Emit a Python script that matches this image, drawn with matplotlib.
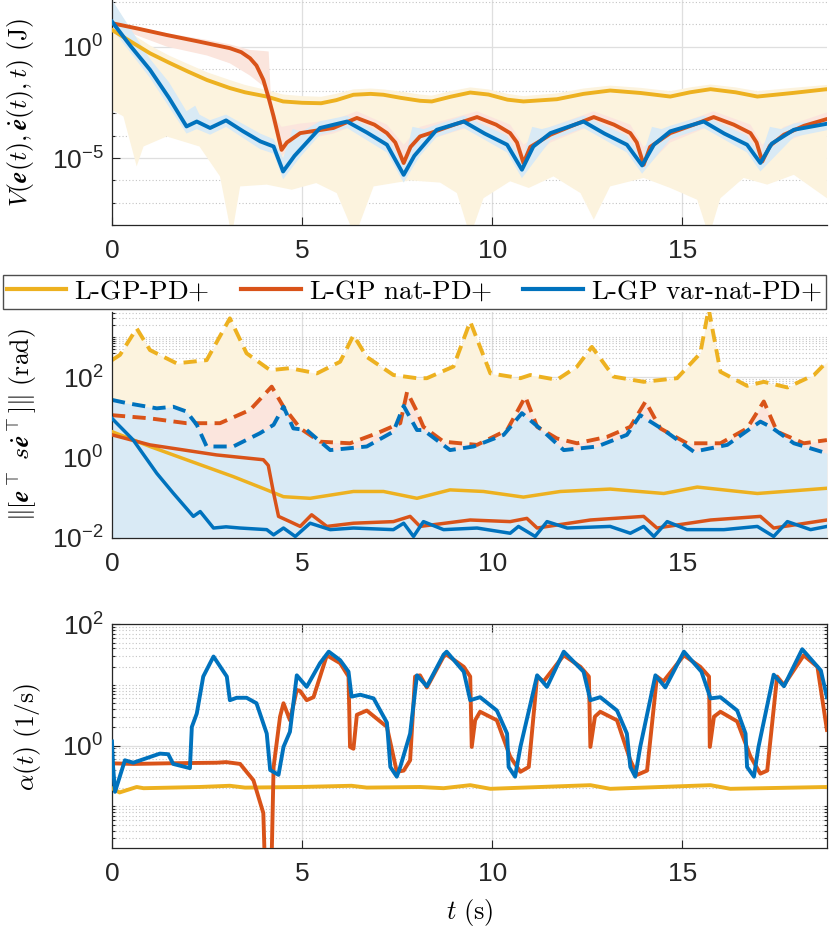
import numpy as np
import matplotlib
matplotlib.use("Agg")
import matplotlib.pyplot as plt
from matplotlib import ticker

# values are log10 of the plotted quantity

# top panel: V(e, de, t)
t_v_gp = [0, 0.5, 1.0, 1.5, 2.0, 2.5, 3.1, 3.5, 4.07, 4.5, 5.0, 5.5, 5.9, 6.35, 6.8, 7.14, 7.6, 8.1,
          8.41, 8.9, 9.42, 9.9, 10.4, 10.82, 11.7, 12.4, 13.1, 13.9, 14.68, 15.2, 15.74, 16.4, 16.97,
          17.9, 18.8]
v_gp = [0.75, 0.22, -0.30, -0.72, -1.12, -1.50, -1.86, -2.05, -2.24, -2.46, -2.52, -2.54, -2.40, -2.16,
        -2.12, -2.16, -2.30, -2.43, -2.46, -2.25, -2.06, -2.15, -2.38, -2.46, -2.36, -2.12, -1.97, -2.08,
        -2.24, -2.05, -1.91, -2.05, -2.24, -2.08, -1.91]
v_gp_up = [1.3, 0.6, 0.05, -0.4, -0.78, -1.15, -1.5, -1.72, -1.95, -2.15, -2.22, -2.25, -2.12, -1.92,
           -1.88, -1.92, -2.02, -2.15, -2.2, -2.0, -1.83, -1.92, -2.12, -2.22, -2.1, -1.88, -1.75, -1.85,
           -2.0, -1.83, -1.7, -1.83, -2.0, -1.85, -1.72]
t_v_gp_lo = [0, 0.3, 0.65, 0.83, 1.44, 2.3, 2.84, 3.15, 3.37, 4.07, 4.73, 5.37, 5.91, 6.39, 6.88, 7.84,
             8.63, 9.07, 9.42, 9.77, 10.47, 10.96, 11.61, 12.32, 12.67, 13.1, 13.98, 14.68, 15.39, 15.7,
             16.0, 16.61, 17.23, 17.93, 18.8]
v_gp_lo = [-2.84, -3.13, -5.37, -4.48, -4.03, -4.48, -5.82, -8.5, -6.27, -6.19, -6.42, -6.12, -6.57, -8.5,
           -6.27, -6.0, -6.1, -6.57, -8.5, -6.8, -6.04, -6.34, -5.82, -6.57, -7.76, -6.27, -5.89, -6.34,
           -6.87, -8.5, -6.8, -5.89, -6.19, -5.75, -6.8]

t_v_nat = [0, 0.7, 1.44, 2.3, 3.1, 3.4, 3.63, 3.8, 3.98, 4.12, 4.25, 4.46, 4.6, 4.95, 5.82, 6.44, 6.9,
           7.23, 7.45, 7.67, 7.85, 8.1, 8.37, 9.0, 9.6, 10.1, 10.47, 10.65, 10.82, 11.0, 11.53, 12.1, 12.67,
           13.2, 13.63, 13.8, 13.98, 14.15, 14.68, 15.3, 15.82, 16.35, 16.79, 16.95, 17.1, 17.3, 17.67,
           18.2, 18.8]
v_nat = [1.05, 0.8, 0.52, 0.22, -0.07, -0.25, -0.52, -0.85, -1.49, -2.3, -3.13, -4.63, -4.3, -3.88, -3.65,
         -3.2, -3.5, -3.88, -4.3, -5.22, -4.5, -4.03, -3.88, -3.5, -3.16, -3.5, -3.88, -4.3, -5.22, -4.5,
         -3.95, -3.55, -3.16, -3.5, -3.88, -4.3, -5.3, -4.5, -3.88, -3.5, -3.16, -3.5, -3.88, -4.3, -5.15,
         -4.45, -3.95, -3.55, -3.25]
t_v_nat_band = [0, 0.5, 1.44, 2.5, 3.1, 3.63, 4.0, 4.12, 4.2, 4.46, 4.95, 5.82, 6.44, 7.23, 7.67, 8.1,
                9.6, 10.47, 10.82, 11.53, 12.67, 13.63, 13.98, 14.68, 15.82, 16.79, 17.1, 17.67, 18.8]
v_nat_up = [1.15, 0.95, 0.6, 0.3, 0.1, -0.15, -0.2, -0.22, -3.0, -3.6, -3.45, -3.3, -2.9, -3.5, -4.4,
            -3.6, -2.9, -3.5, -4.4, -3.6, -2.9, -3.5, -4.5, -3.6, -2.9, -3.5, -4.4, -3.6, -2.95]
v_nat_lo = [0.95, 0.6, 0.0, -0.4, -0.75, -1.3, -1.8, -2.4, -3.3, -4.9, -4.2, -3.9, -3.5, -4.2, -5.4,
            -4.3, -3.5, -4.2, -5.4, -4.3, -3.5, -4.2, -5.5, -4.3, -3.5, -4.2, -5.4, -4.3, -3.5]

t_v_var = [0, 0.5, 1.0, 1.5, 1.96, 2.23, 2.58, 3.0, 3.45, 3.9, 4.25, 4.5, 4.8, 5.47, 6.18, 6.7, 7.23,
           7.67, 7.95, 8.54, 9.25, 9.8, 10.39, 10.78, 11.08, 11.53, 12.4, 12.95, 13.54, 13.94, 14.25,
           14.68, 15.56, 16.1, 16.7, 17.05, 17.35, 17.93, 18.8]
v_var = [1.12, 0.0, -1.04, -2.3, -3.58, -3.36, -3.65, -3.31, -3.8, -4.25, -4.48, -5.6, -4.9, -3.65, -3.36,
         -3.85, -4.4, -5.75, -4.9, -3.73, -3.36, -3.9, -4.4, -5.52, -4.48, -3.88, -3.36, -3.9, -4.4, -5.33,
         -4.4, -3.8, -3.36, -3.9, -4.4, -5.22, -4.35, -3.73, -3.46]
t_v_var_up = [0, 0.3, 1.0, 1.5, 1.96, 2.19, 2.3, 2.58, 3.0, 3.9, 4.25, 4.5, 4.75, 5.0, 5.47, 6.18, 7.23,
              7.67, 7.9, 8.2, 8.54, 9.25, 10.39, 10.78, 11.05, 11.3, 11.53, 12.4, 13.54, 13.94, 14.2,
              14.45, 14.68, 15.56, 16.7, 17.05, 17.3, 17.6, 17.93, 18.8]
v_var_up = [2.1, 1.3, -0.55, -1.6, -2.9, -2.65, -3.05, -3.3, -3.05, -3.9, -4.15, -5.0, -3.7, -3.8, -3.35,
            -3.1, -4.0, -5.3, -3.6, -3.7, -3.5, -3.1, -4.0, -5.1, -3.6, -3.7, -3.6, -3.1, -4.0, -5.0, -3.6,
            -3.7, -3.55, -3.1, -4.0, -4.9, -3.6, -3.7, -3.45, -3.25]
t_v_var_lo = [0, 1.0, 1.96, 2.23, 2.58, 3.0, 3.9, 4.25, 4.5, 4.95, 5.47, 6.18, 7.23, 7.67, 8.1, 8.54,
              9.25, 10.39, 10.78, 11.53, 12.4, 13.54, 13.94, 14.68, 15.56, 16.7, 17.05, 17.93, 18.8]
v_var_lo = [0.8, -1.4, -3.9, -3.7, -3.95, -3.6, -4.6, -4.8, -5.95, -4.95, -3.95, -3.65, -4.75, -6.1, -4.9,
            -4.05, -3.65, -4.75, -5.9, -4.2, -3.65, -4.75, -5.7, -4.15, -3.65, -4.75, -5.6, -4.05, -3.75]

# middle panel: error norm, solid = mean, dashed = upper bound
t_e_gp = [0, 1.0, 1.96, 3.19, 4.07, 4.51, 5.21, 6.35, 7.14, 8.02, 8.89, 9.77, 10.82, 11.79, 13.1, 14.51,
          15.39, 16.97, 18.8]
e_gp = [0.64, 0.27, -0.06, -0.48, -0.81, -0.98, -1.02, -0.85, -0.85, -1.02, -0.81, -0.85, -0.99, -0.85,
        -0.79, -0.90, -0.74, -0.90, -0.77]
t_e_gp_up = [0, 0.21, 0.65, 1.0, 1.7, 2.49, 3.1, 3.54, 4.16, 4.68, 5.39, 6.0, 6.35, 6.7, 7.4, 8.02, 8.28,
             8.98, 9.42, 9.95, 10.74, 11.0, 11.7, 12.23, 12.62, 13.19, 13.98, 14.86, 15.47, 15.69, 16.0,
             16.7, 17.14, 17.76, 18.46, 18.8]
e_gp_up = [2.42, 2.55, 3.21, 2.67, 2.34, 2.42, 3.46, 2.59, 2.17, 2.22, 2.09, 2.38, 3.04, 2.5, 2.05, 1.97,
           1.97, 2.26, 3.38, 2.09, 1.97, 2.05, 1.93, 2.26, 2.75, 2.01, 1.88, 1.97, 2.59, 3.7, 2.13, 1.78,
           1.88, 1.74, 2.05, 2.38]

t_e_nat = [0, 1.0, 2.75, 3.98, 4.11, 4.25, 4.38, 4.68, 4.95, 5.25, 5.65, 6.35, 7.4, 7.84, 8.1, 9.42,
           10.47, 10.91, 11.18, 12.58, 13.98, 14.33, 15.74, 17.05, 17.4, 18.8]
e_nat = [0.56, 0.31, 0.06, -0.06, -0.2, -0.89, -1.47, -1.6, -1.72, -1.43, -1.72, -1.64, -1.6, -1.47, -1.72,
         -1.56, -1.6, -1.52, -1.76, -1.56, -1.47, -1.76, -1.56, -1.47, -1.76, -1.56]
t_e_nat_up = [0, 1.0, 1.96, 2.84, 3.63, 4.2, 4.51, 4.95, 5.47, 6.26, 6.97, 7.58, 7.76, 8.02, 8.19, 8.72,
              9.6, 10.39, 10.87, 11.18, 11.7, 12.23, 13.02, 13.63, 14.03, 14.42, 15.12, 16.0, 16.7, 17.14,
              17.49, 18.19, 18.8]
e_nat_up = [1.05, 0.97, 0.85, 0.85, 1.18, 1.76, 1.26, 0.72, 0.39, 0.35, 0.6, 0.85, 1.63, 1.14, 0.76, 0.39,
            0.31, 0.68, 1.51, 0.76, 0.47, 0.35, 0.51, 0.76, 1.39, 0.72, 0.35, 0.35, 0.72, 1.39, 0.64, 0.35,
            0.43]

t_e_var = [0, 0.56, 1.18, 1.61, 2.14, 2.32, 2.67, 3.0, 3.37, 4.07, 4.25, 4.51, 4.82, 5.21, 5.74, 6.35,
           7.4, 7.67, 7.93, 8.19, 8.72, 9.6, 10.47, 10.69, 11.13, 11.44, 11.97, 13.1, 13.63, 13.98, 14.25,
           14.6, 15.12, 16.09, 16.97, 17.4, 17.76, 18.37, 18.8]
e_var = [0.97, 0.43, -0.4, -0.89, -1.47, -1.35, -1.76, -1.73, -1.76, -1.8, -1.93, -1.76, -1.97, -1.64, -1.8,
         -1.76, -1.8, -1.64, -1.97, -1.6, -1.8, -1.76, -1.89, -1.72, -1.97, -1.6, -1.76, -1.72, -1.89, -1.72,
         -1.97, -1.6, -1.8, -1.8, -1.72, -1.97, -1.6, -1.8, -1.72]
t_e_var_up = [0, 0.39, 1.18, 1.61, 1.96, 2.23, 2.49, 3.19, 3.89, 4.25, 4.51, 4.77, 5.12, 5.74, 6.7, 7.4,
              7.67, 8.02, 8.19, 8.89, 9.51, 10.3, 10.78, 11.35, 11.88, 12.76, 13.54, 13.89, 14.51, 15.3,
              16.18, 16.79, 17.05, 17.32, 17.93, 18.8]
e_var_up = [1.43, 1.35, 1.22, 1.26, 1.14, 0.81, 0.27, 0.27, 0.6, 0.81, 1.26, 0.72, 0.68, 0.18, 0.27, 0.64,
            1.28, 0.68, 0.68, 0.18, 0.27, 0.56, 1.1, 0.64, 0.18, 0.27, 0.56, 1.05, 0.68, 0.14, 0.31, 0.72,
            0.89, 0.76, 0.35, 0.1]

# bottom panel: alpha(t)
t_a_gp = [0, 0.2, 0.65, 0.83, 2.3, 3.1, 3.5, 4.95, 6.3, 6.7, 8.1, 8.72, 9.42, 9.95, 12.58, 13.1, 15.74,
          16.26, 18.8]
a_gp = [-0.70, -0.77, -0.68, -0.70, -0.68, -0.66, -0.69, -0.68, -0.66, -0.69, -0.68, -0.70, -0.65, -0.71,
        -0.65, -0.71, -0.65, -0.71, -0.68]

t_a_nat = [0, 0.56, 1.44, 2.75, 3.0, 3.37, 3.72, 3.98, 4.07, 4.16, 4.25, 4.42, 4.51, 4.68, 4.86, 4.95,
           5.12, 5.3, 5.65, 6.0, 6.22, 6.26, 6.35, 6.44, 6.7, 7.23, 7.49, 7.67, 7.84, 7.97, 8.1, 8.28, 8.72,
           8.8, 9.25, 9.42, 9.46, 9.55, 9.68, 10.12, 10.47, 10.74, 10.96, 11.18, 11.35, 11.88, 12.32, 12.54,
           12.58, 12.7, 12.84, 13.28, 13.63, 13.81, 14.07, 14.33, 14.5, 15.04, 15.47, 15.7, 15.72, 15.83,
           16.0, 16.44, 16.79, 17.05, 17.23, 17.49, 17.67, 18.19, 18.55, 18.8]
a_nat = [-0.29, -0.30, -0.29, -0.28, -0.27, -0.30, -0.57, -1.11, -3.0, -3.0, -0.35, 0.48, 0.70, 0.42, 0.92,
         0.90, 0.75, 0.80, 1.49, 1.36, 1.14, -0.02, -0.05, 0.51, 0.58, 0.31, -0.43, -0.41, -0.24, 1.14, 1.16,
         0.96, 1.47, 1.50, 1.30, 1.14, -0.02, 0.42, 0.56, 0.42, -0.18, -0.43, -0.35, 1.14, 1.06, 1.49, 1.30,
         1.14, -0.02, 0.48, 0.56, 0.42, -0.24, -0.48, -0.41, 1.14, 1.06, 1.49, 1.30, 1.14, -0.02, 0.48,
         0.56, 0.40, -0.18, -0.46, -0.41, 1.14, 1.00, 1.49, 1.30, 0.26]

t_a_var = [0, 0.03, 0.08, 0.34, 0.56, 1.26, 1.48, 1.61, 2.05, 2.1, 2.23, 2.4, 2.67, 3.02, 3.1, 3.28, 3.54,
           3.8, 4.07, 4.16, 4.38, 4.51, 4.68, 4.86, 5.12, 5.47, 5.7, 6.0, 6.22, 6.3, 6.53, 6.88, 7.23, 7.32,
           7.49, 7.58, 7.84, 8.02, 8.28, 8.72, 8.8, 9.25, 9.42, 9.68, 10.12, 10.39, 10.43, 10.6, 10.74,
           11.18, 11.44, 11.88, 12.4, 12.58, 12.84, 13.28, 13.54, 13.63, 13.76, 13.89, 14.29, 14.55, 15.04,
           15.5, 15.74, 16.0, 16.44, 16.66, 16.7, 16.88, 17.0, 17.4, 17.67, 18.15, 18.64, 18.8]
a_var = [0.07, -0.35, -0.76, -0.24, -0.28, -0.13, -0.14, -0.30, -0.37, 0.31, 0.53, 1.14, 1.47, 1.14, 0.75,
         0.79, 0.79, 0.70, 0.20, -0.40, -0.48, -0.02, 0.23, 1.16, 0.97, 1.36, 1.55, 1.41, 1.22, 0.81, 0.84,
         0.78, 0.38, -0.35, -0.51, -0.35, 0.20, 1.16, 0.98, 1.50, 1.55, 1.22, 0.75, 0.80, 0.58, 0.20, -0.35,
         -0.51, -0.02, 1.16, 0.97, 1.55, 1.22, 0.75, 0.80, 0.58, 0.20, -0.35, -0.51, -0.02, 1.16, 0.96, 1.55,
         1.22, 0.78, 0.80, 0.58, 0.20, -0.35, -0.51, -0.02, 1.17, 0.98, 1.59, 1.24, 0.80]

labels = ["L-GP-PD+", "L-GP nat-PD+", "L-GP var-nat-PD+"]

YELLOW = "#EDB120"
RED = "#D95319"
BLUE = "#0072BD"
FILL_Y = "#fcf3de"
FILL_R = "#fbe5dd"
FILL_B = "#d9eaf5"
INK = "#262626"
FS = 19


def p(v):
    return 10.0 ** np.asarray(v, dtype=float)


def band(ax, t_up, up, t_lo, lo, color):
    xs = np.r_[t_up, t_lo[::-1]]
    ys = np.r_[p(up), p(lo)[::-1]]
    ax.fill(xs, ys, color=color, lw=0, zorder=1)


def style_axes(ax, box, major, minor_subs, ylim):
    ax.set_yscale("log")
    ax.set_xlim(0, 18.8)
    ax.set_ylim(*ylim)
    ax.set_xticks([0, 5, 10, 15])
    ax.yaxis.set_major_locator(ticker.FixedLocator(major))
    ax.yaxis.set_minor_locator(ticker.LogLocator(base=10, subs=minor_subs, numticks=40))
    ax.yaxis.set_major_formatter(ticker.LogFormatterSciNotation())
    ax.yaxis.set_minor_formatter(ticker.NullFormatter())
    ax.set_axisbelow(True)
    ax.grid(which="major", color="#dfdfdf", lw=0.9, ls="-")
    ax.grid(which="minor", axis="y", color="#c4c4c4", lw=0.8, ls=(0, (1, 2)))
    for side in ["left", "bottom"]:
        ax.spines[side].set_color(INK)
        ax.spines[side].set_linewidth(0.9)
    for side in ["top", "right"]:
        ax.spines[side].set_visible(box)
        ax.spines[side].set_color(INK)
        ax.spines[side].set_linewidth(0.9)
    ax.tick_params(which="both", direction="in", colors=INK, labelsize=FS, width=0.8,
                   top=box, right=box)
    ax.tick_params(which="major", length=5.5)
    ax.tick_params(which="minor", length=2.5)
    ax.tick_params(axis="x", pad=10)
    ax.tick_params(axis="y", pad=6)


fig = plt.figure(figsize=(8.3, 9.32), dpi=100)
plt.rcParams["font.family"] = ["Liberation Sans", "DejaVu Sans"]
plt.rcParams["mathtext.fontset"] = "cm"

ax1 = fig.add_axes([0.1349, 0.7586, 0.8614, 0.2414])
ax2 = fig.add_axes([0.1349, 0.4231, 0.8614, 0.2422])
ax3 = fig.add_axes([0.1349, 0.0898, 0.8614, 0.2403])

# top
band(ax1, t_v_gp, v_gp_up, t_v_gp_lo, v_gp_lo, FILL_Y)
band(ax1, t_v_nat_band, v_nat_up, t_v_nat_band, v_nat_lo, FILL_R)
band(ax1, t_v_var_up, v_var_up, t_v_var_lo, v_var_lo, FILL_B)
h1, = ax1.plot(t_v_gp, p(v_gp), color=YELLOW, lw=2.8, zorder=3)
h2, = ax1.plot(t_v_nat, p(v_nat), color=RED, lw=2.8, zorder=3)
h3, = ax1.plot(t_v_var, p(v_var), color=BLUE, lw=2.8, zorder=3)
style_axes(ax1, False, [1e-5, 1e0], [1.0], (1e-8, 10 ** 2.09))
ax1.set_ylabel(r"$V(\mathbfit{e}(t),\dot{\mathbfit{e}}(t),t)\ \text{(J)}$", fontsize=18.5)

# middle
floor = 1e-3
ax2.fill_between(t_e_gp_up, floor, p(e_gp_up), color=FILL_Y, lw=0, zorder=1)
ax2.fill_between(t_e_nat_up, floor, p(e_nat_up), color=FILL_R, lw=0, zorder=1)
ax2.fill_between(t_e_var_up, floor, p(e_var_up), color=FILL_B, lw=0, zorder=1)
dash = (0, (3.4, 1.9))
ax2.plot(t_e_gp_up, p(e_gp_up), color=YELLOW, lw=2.8, ls=dash, zorder=2)
ax2.plot(t_e_nat_up, p(e_nat_up), color=RED, lw=2.8, ls=dash, zorder=2)
ax2.plot(t_e_var_up, p(e_var_up), color=BLUE, lw=2.8, ls=dash, zorder=2)
ax2.plot(t_e_gp, p(e_gp), color=YELLOW, lw=2.5, zorder=3)
ax2.plot(t_e_nat, p(e_nat), color=RED, lw=2.5, zorder=3)
ax2.plot(t_e_var, p(e_var), color=BLUE, lw=2.5, zorder=3)
style_axes(ax2, False, [1e-2, 1e0, 1e2], np.arange(1, 10), (1e-2, 10 ** 3.62))
ax2.set_ylabel(r"$\|[\mathbfit{e}^\top\ s\dot{\mathbfit{e}}^\top]\|\ \text{(rad)}$", fontsize=18.5)

# bottom
ax3.plot(t_a_gp, p(a_gp), color=YELLOW, lw=2.8, zorder=3)
ax3.plot(t_a_nat, p(a_nat), color=RED, lw=2.8, zorder=3)
ax3.plot(t_a_var, p(a_var), color=BLUE, lw=2.8, zorder=3)
style_axes(ax3, True, [1e0, 1e2], np.arange(1, 10), (0.0204, 100))
ax3.set_ylabel(r"$\alpha(t)\ \text{(1/s)}$", fontsize=18.5)
ax3.set_xlabel(r"$t\ \text{(s)}$", fontsize=FS, labelpad=8)

ax1.yaxis.set_label_coords(-0.106, 0.5)
ax2.yaxis.set_label_coords(-0.102, 0.5)
ax3.yaxis.set_label_coords(-0.097, 0.5)

leg = fig.legend([h1, h2, h3], [r"$\text{%s}$" % s for s in labels], ncol=3, loc="lower left",
                 bbox_to_anchor=(2.6 / 830, 1 - 309 / 932, 823.4 / 830, 41 / 932), mode="expand",
                 borderaxespad=0, fontsize=19.5, handlelength=2.2, handletextpad=0.3,
                 columnspacing=0.5, borderpad=0.15, fancybox=False, framealpha=1)
leg.get_frame().set_edgecolor("#4d4d4d")
leg.get_frame().set_linewidth(1.0)
for line in leg.get_lines():
    line.set_linewidth(3.0)

fig.savefig("out.png", dpi=100)
